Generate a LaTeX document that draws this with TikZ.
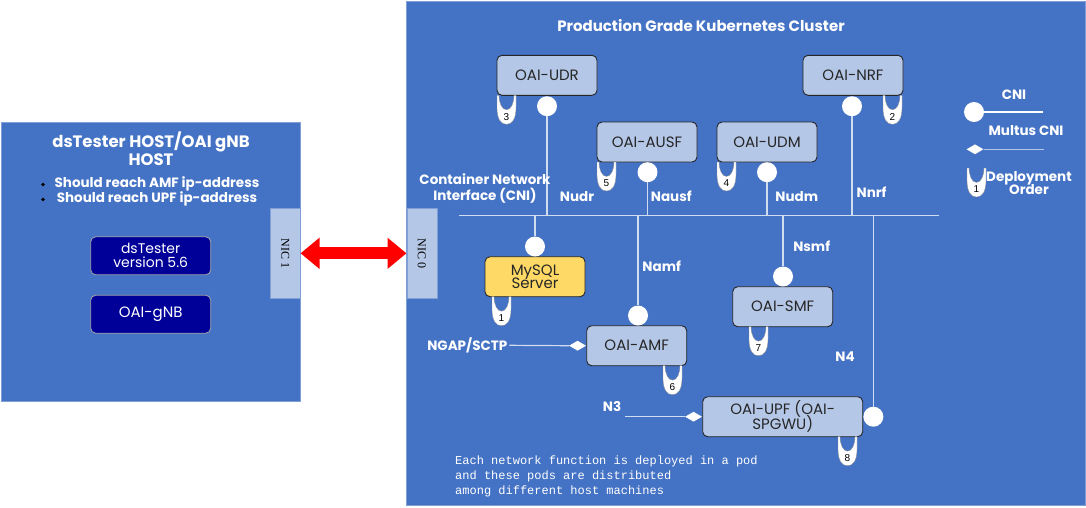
\documentclass[tikz,border=0pt]{standalone}
\usepackage{fontspec}
\setmainfont{Poppins}
\newfontfamily\monof{Liberation Mono}
\newfontfamily\serf{Liberation Serif}
\newfontfamily\numf{Liberation Sans}
\usetikzlibrary{shapes.geometric,arrows.meta}
\definecolor{bgblue}{HTML}{4472C4}
\definecolor{lightbox}{HTML}{B4C7E7}
\definecolor{navyc}{HTML}{000099}
\definecolor{mysqlc}{HTML}{FFD966}
\definecolor{linec}{HTML}{D0DCF0}
\definecolor{frame}{HTML}{7F9FD6}
\tikzset{
  panel/.style={fill=bgblue, draw=frame, line width=0.6pt, inner sep=0},
  nf/.style={draw=black!85, line width=0.9pt, rounded corners=5pt, fill=lightbox,
    minimum width=100pt, minimum height=40pt, inner sep=0, text=black!85, align=center,
    font=\fontsize{15}{16}\selectfont},
  hostbox/.style={draw=black!35, line width=0.8pt, fill=navyc, rounded corners=5pt,
    minimum width=120pt, minimum height=38pt, inner sep=0, text=white, align=center,
    font=\fontsize{14}{16}\selectfont},
  cni/.style={circle, fill=white, minimum size=20pt, inner sep=0},
  lab/.style={text=white, font=\bfseries\fontsize{13.5}{16}\selectfont, inner sep=0, align=center},
  ttl/.style={text=white, font=\bfseries\fontsize{15}{17.7}\selectfont, inner sep=0, align=center},
  busline/.style={draw=linec, line width=1.2pt},
  nic/.style={fill=lightbox, draw=frame, line width=0.4pt, minimum width=30pt, minimum height=90pt, inner sep=0},
  nictext/.style={font=\serf\fontsize{12}{12}\selectfont, rotate=-90, inner sep=0},
  dia/.style={diamond, fill=white, minimum width=17pt, minimum height=10pt, inner sep=0},
  dot/.style={circle, fill=black, minimum size=3.6pt, inner sep=0},
  cup/.pic={
    \fill[white, draw=black!45, line width=0.3pt] (0,0) -- (0,12)
      .. controls (0,24) and (4,29) .. (9.5,29)
      .. controls (15,29) and (19,24) .. (19,12) -- (19,0) -- (17,0)
      .. controls (17,8) and (14,14.5) .. (9.5,14.5)
      .. controls (5,14.5) and (2,8) .. (2,0) -- cycle;
    \node[font=\numf\fontsize{10}{10}\selectfont, inner sep=0] at (9.5,21.5) {#1};
  }
}
\begin{document}
\begin{tikzpicture}[x=1pt,y=-1pt]
\useasboundingbox (0,0) rectangle (1086,507);
\fill[white] (0,0) rectangle (1086,507);

% panels
\node[panel, minimum width=299pt, minimum height=279pt] (host) at (150.5,261.5) {};
\node[panel, minimum width=679pt, minimum height=504pt] (k8s) at (745.5,253.5) {};

% left host contents
\node[ttl, font=\bfseries\fontsize{16.5}{17.7}\selectfont] (htitle) at (151,149) {dsTester HOST/OAI gNB\\HOST};
\node[lab] (bul1) at (157,183.5) {Should reach AMF ip-address};
\node[lab] (bul2) at (157,198.5) {Should reach UPF ip-address};
\node[dot] (dot1) at (43,184.5) {};
\node[dot] (dot2) at (43,199.5) {};
\node[hostbox] (dst) at (150.7,255.8) {dsTester\\[-2pt]version 5.6};
\node[hostbox, font=\fontsize{15}{16}\selectfont] (gnb) at (150.7,314.2) {OAI-gNB};
\node[nic] (nic1) at (285.3,253.3) {};
\node[nictext] (nic1t) at (nic1.center) {NIC 1};

% right cluster
\node[nic] (nic0) at (421.7,253.3) {};
\node[nictext] (nic0t) at (nic0.center) {NIC 0};
\draw[red, line width=12pt, {Triangle[length=19pt,width=30pt]}-{Triangle[length=19pt,width=30pt]}]
  (nic1.east) -- (nic0.west);

\node[ttl] (ktitle) at (701,26) {Production Grade Kubernetes Cluster};

% network functions
\node[nf] (udr) at (547,75.3) {OAI-UDR};
\node[nf] (nrf) at (853,75.3) {OAI-NRF};
\node[nf] (ausf) at (647,142) {OAI-AUSF};
\node[nf] (udm) at (767,142) {OAI-UDM};
\node[nf, fill=mysqlc] (mysql) at (535,276.7) {MySQL\\[-3pt]Server};
\node[nf] (amf) at (636.7,345.7) {OAI-AMF};
\node[nf] (smf) at (782.7,306.7) {OAI-SMF};
\node[nf, minimum width=160pt] (upf) at (782.7,416.7) {OAI-UPF (OAI-\\[-3pt]SPGWU)};

% CNI circles
\node[cni, anchor=north] (cudr) at (547,96) {};
\node[cni, anchor=north] (cnrf) at (852,96) {};
\node[cni, anchor=north] (causf) at (647.5,162) {};
\node[cni, anchor=north] (cudm) at (767,162) {};
\node[cni, anchor=south] (cmysql) at (535,256.7) {};
\node[cni, anchor=south] (camf) at (638,325.7) {};
\node[cni, anchor=south] (csmf) at (783,286.7) {};
\node[cni, anchor=west] (cupf) at (upf.east) {};

% bus
\coordinate (busL) at (459,215.5);
\coordinate (busR) at (939,215.5);
\draw[busline] (busL) -- (busR);
\draw[busline] (cudr.south) -- (cudr.south |- busL);
\draw[busline] (causf.south) -- (causf.south |- busL);
\draw[busline] (cudm.south) -- (cudm.south |- busL);
\draw[busline] (cnrf.south) -- (cnrf.south |- busL);
\draw[busline] (cmysql.north |- busL) -- (cmysql.north);
\draw[busline] (camf.north |- busL) -- (camf.north);
\draw[busline] (csmf.north |- busL) -- (csmf.north);
\draw[busline] (cupf.north |- busL) -- (cupf.north);

% interface labels
\node[lab] (cnil) at (485,188.5) {Container Network\\Interface (CNI)};
\node[lab] (nudr) at (577,196.7) {Nudr};
\node[lab] (nausf) at (671.3,196.7) {Nausf};
\node[lab] (nudm) at (796.7,196.7) {Nudm};
\node[lab] (nnrf) at (871.6,192.3) {Nnrf};
\node[lab] (namf) at (661.7,266.7) {Namf};
\node[lab] (nsmf) at (811.7,246.7) {Nsmf};
\node[lab] (n4) at (845,356.7) {N4};
\node[lab] (n3) at (612,406.7) {N3};
\node[lab] (ngap) at (467.3,345.3) {NGAP/SCTP};

% multus interfaces
\node[dia, anchor=east] (dngap) at (amf.west) {};
\draw[busline] (ngap.east) ++(2,0) -- (dngap.west);
\node[dia, anchor=east] (dn3) at (upf.west) {};
\coordinate (n3start) at (625,416.7);
\draw[busline] (n3start) -- (dn3.west);

% deployment order
\pic at (497,95.3) {cup=3};
\pic at (883,95.3) {cup=2};
\pic at (597,162) {cup=5};
\pic at (717,162) {cup=4};
\pic at (492,296.7) {cup=1};
\pic at (663,365.7) {cup=6};
\pic at (749,326.7) {cup=7};
\pic at (838,436.7) {cup=8};

% legend
\node[lab] (lgcni) at (1014,95) {CNI};
\node[cni] (lgc) at (974,112) {};
\coordinate (lgcend) at (1043,112);
\draw[draw=white, line width=1.2pt] (lgc.east) -- (lgcend);
\node[lab] (lgmul) at (1026,131) {Multus CNI};
\node[dia] (lgd) at (975,149.3) {};
\coordinate (lgdend) at (1044,149.3);
\draw[draw=lightbox, line width=1.6pt] (lgd.east) -- (lgdend);
\pic at (967,168) {cup=1};
\node[lab] (lgdep) at (1029,183.3) {Deployment\\[-3pt]Order};

% note
\node[text=white, font=\monof\fontsize{12}{15}\selectfont, align=left, anchor=north west, inner sep=0] (note) at (455,455.5)
  {Each network function is deployed in a pod\\and these pods are distributed\\among different host machines};
\end{tikzpicture}
\end{document}
